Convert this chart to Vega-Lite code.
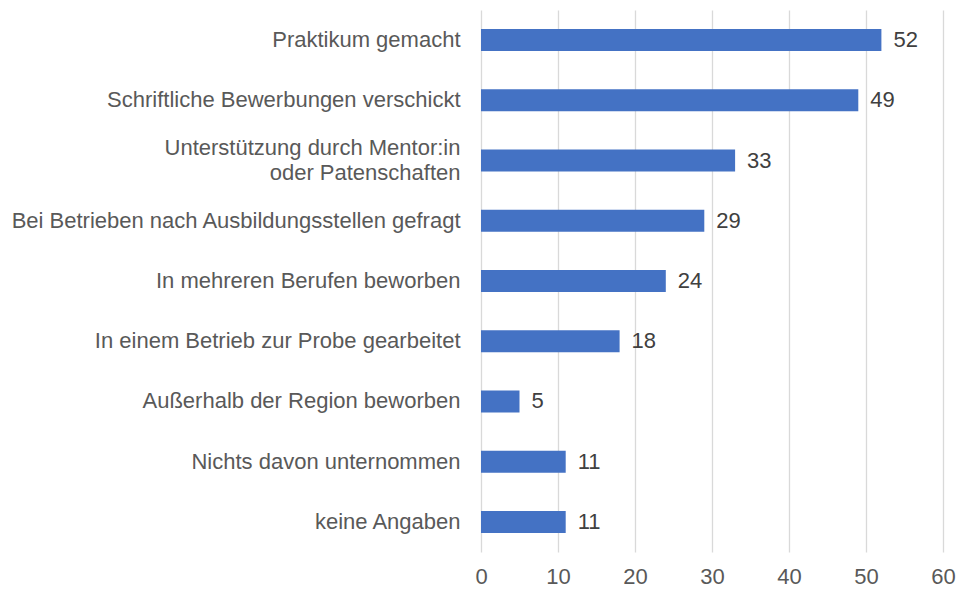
{
  "$schema": "https://vega.github.io/schema/vega-lite/v6.json",
  "autosize": "none",
  "padding": {"left": 481, "top": 10, "right": 17, "bottom": 39},
  "width": 462,
  "height": 542,
  "background": "white",
  "config": {"view": {"stroke": null}, "font": "Liberation Sans"},
  "data": {"values": [
    {"kategorie": "Praktikum gemacht", "wert": 52},
    {"kategorie": "Schriftliche Bewerbungen verschickt", "wert": 49},
    {"kategorie": "Unterstützung durch Mentor:in oder Patenschaften", "wert": 33},
    {"kategorie": "Bei Betrieben nach Ausbildungsstellen gefragt", "wert": 29},
    {"kategorie": "In mehreren Berufen beworben", "wert": 24},
    {"kategorie": "In einem Betrieb zur Probe gearbeitet", "wert": 18},
    {"kategorie": "Außerhalb der Region beworben", "wert": 5},
    {"kategorie": "Nichts davon unternommen", "wert": 11},
    {"kategorie": "keine Angaben", "wert": 11}
  ]},
  "encoding": {
    "y": {
      "field": "kategorie", "type": "nominal", "sort": null,
      "scale": {"paddingInner": 0.635, "paddingOuter": 0.3175},
      "axis": {
        "title": null, "domain": false, "ticks": false, "grid": false,
        "labelFontSize": 22, "labelColor": "#595959", "labelPadding": 21,
        "labelLimit": 500, "labelLineHeight": 25,
        "labelOffset": {"condition": {"test": "datum.value == 'Unterstützung durch Mentor:in oder Patenschaften'", "value": -12.5}, "value": 0},
        "labelExpr": "datum.value == 'Unterstützung durch Mentor:in oder Patenschaften' ? ['Unterstützung durch Mentor:in', 'oder Patenschaften'] : datum.label"
      }
    },
    "x": {
      "field": "wert", "type": "quantitative",
      "scale": {"domain": [0, 60], "nice": false},
      "axis": {
        "title": null, "domain": false, "ticks": false, "values": [0, 10, 20, 30, 40, 50, 60],
        "grid": true, "gridColor": "#d9d9d9", "gridWidth": 1.3,
        "labelFlush": false,
        "labelFontSize": 22, "labelColor": "#595959", "labelPadding": 14
      }
    }
  },
  "layer": [
    {"mark": {"type": "bar", "color": "#4472C4"}},
    {"mark": {"type": "text", "align": "left", "dx": 12, "fontSize": 22, "color": "#404040"},
     "encoding": {"text": {"field": "wert", "type": "quantitative"}}}
  ]
}
